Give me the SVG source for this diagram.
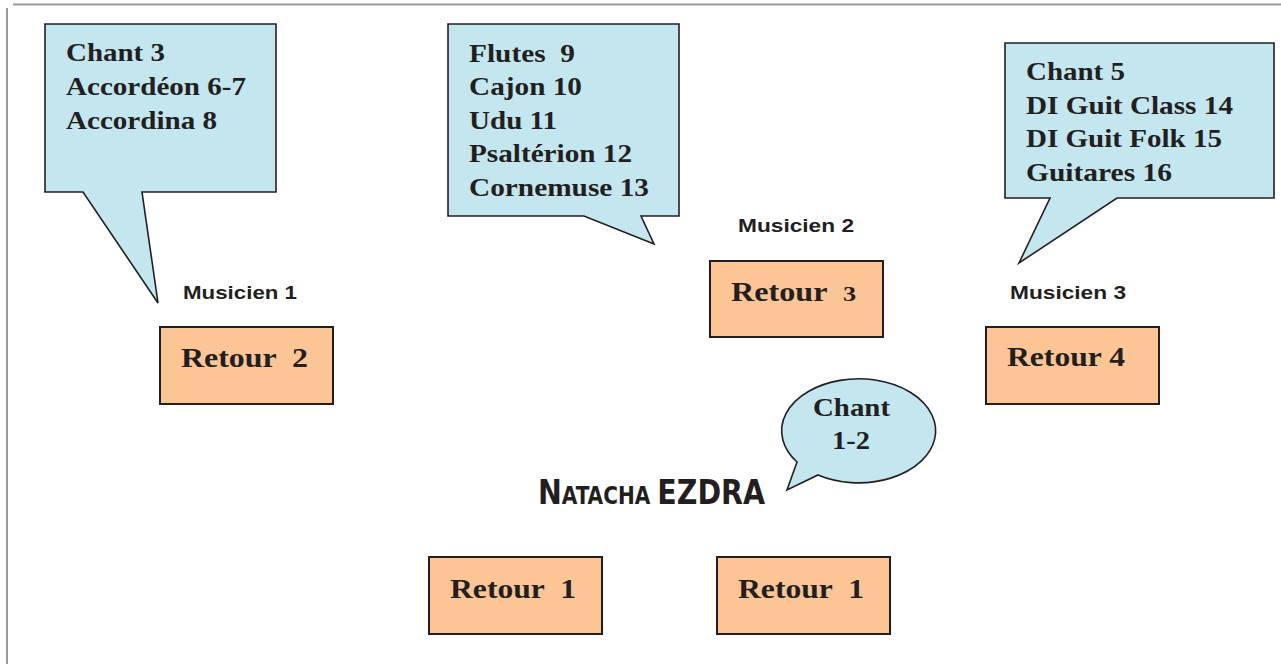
<svg xmlns="http://www.w3.org/2000/svg" width="1281" height="664" viewBox="0 0 1281 664">
<style>
.bubble{fill:#C4E6EF;stroke:#231F20;stroke-width:1.6;stroke-linejoin:miter}
.box{fill:#FBC596;stroke:#231F20;stroke-width:2}
text{white-space:pre}
.t{font-family:"Liberation Serif",serif;font-weight:bold;font-size:26px;fill:#231F20}
.r{font-family:"Liberation Serif",serif;font-weight:bold;font-size:27px;fill:#231F20}
.m{font-family:"Liberation Sans",sans-serif;font-weight:bold;font-size:18px;fill:#231F20}
.frame{stroke:#999;stroke-width:2;fill:none}
</style>
<rect width="1281" height="664" fill="#fff"/>
<g id="frame">
<line class="frame" x1="13" y1="4.5" x2="1281" y2="4.5"/>
<line class="frame" x1="7" y1="8" x2="7" y2="664"/>
</g>
<g id="callout1">
<path class="bubble" d="M45,24 H276 V192 H142 L158,303 L83,192 H45 Z"/>
<text class="t" x="66" y="61" textLength="99" lengthAdjust="spacingAndGlyphs">Chant 3</text>
<text class="t" x="66" y="95" textLength="180" lengthAdjust="spacingAndGlyphs">Accordéon 6-7</text>
<text class="t" x="66" y="129" textLength="151" lengthAdjust="spacingAndGlyphs">Accordina 8</text>
</g>
<g id="callout2">
<path class="bubble" d="M448,24 H679 V216 H641 L654,244 L584,216 H448 Z"/>
<text class="t" x="469" y="62" textLength="106" lengthAdjust="spacingAndGlyphs">Flutes  9</text>
<text class="t" x="469" y="95" textLength="113" lengthAdjust="spacingAndGlyphs">Cajon 10</text>
<text class="t" x="469" y="129" textLength="88" lengthAdjust="spacingAndGlyphs">Udu 11</text>
<text class="t" x="469" y="162" textLength="163" lengthAdjust="spacingAndGlyphs">Psaltérion 12</text>
<text class="t" x="469" y="196" textLength="180" lengthAdjust="spacingAndGlyphs">Cornemuse 13</text>
</g>
<g id="callout3">
<path class="bubble" d="M1005,43 H1274 V198 H1117 L1019,263 L1050,198 H1005 Z"/>
<text class="t" x="1026" y="80" textLength="99" lengthAdjust="spacingAndGlyphs">Chant 5</text>
<text class="t" x="1026" y="114" textLength="207" lengthAdjust="spacingAndGlyphs">DI Guit Class 14</text>
<text class="t" x="1026" y="147" textLength="196" lengthAdjust="spacingAndGlyphs">DI Guit Folk 15</text>
<text class="t" x="1026" y="181" textLength="146" lengthAdjust="spacingAndGlyphs">Guitares 16</text>
</g>
<g id="musicien1"><text class="m" x="183" y="299" textLength="114" lengthAdjust="spacingAndGlyphs">Musicien 1</text></g>
<g id="musicien2"><text class="m" x="738" y="232" textLength="116" lengthAdjust="spacingAndGlyphs">Musicien 2</text></g>
<g id="musicien3"><text class="m" x="1010" y="299" textLength="116" lengthAdjust="spacingAndGlyphs">Musicien 3</text></g>
<g id="retour2">
<rect class="box" x="160" y="327" width="173" height="77"/>
<text class="r" x="181" y="367" textLength="127" lengthAdjust="spacingAndGlyphs">Retour  2</text>
</g>
<g id="retour3">
<rect class="box" x="710" y="261" width="173" height="76"/>
<text class="r" x="731" y="301" textLength="125" lengthAdjust="spacingAndGlyphs">Retour  <tspan font-size="22">3</tspan></text>
</g>
<g id="retour4">
<rect class="box" x="986" y="327" width="173" height="77"/>
<text class="r" x="1007" y="366" textLength="118" lengthAdjust="spacingAndGlyphs">Retour 4</text>
</g>
<g id="retour1a">
<rect class="box" x="429" y="557" width="173" height="77"/>
<text class="r" x="450" y="598" textLength="126" lengthAdjust="spacingAndGlyphs">Retour  1</text>
</g>
<g id="retour1b">
<rect class="box" x="717" y="557" width="173" height="77"/>
<text class="r" x="738" y="598" textLength="126" lengthAdjust="spacingAndGlyphs">Retour  1</text>
</g>
<g id="chant12">
<path class="bubble" d="M797,462 A77,52 0 1 1 818,475 L787,490 Z"/>
<text class="t" x="813" y="416" textLength="77" lengthAdjust="spacingAndGlyphs">Chant</text>
<text class="t" x="832" y="449" textLength="38" lengthAdjust="spacingAndGlyphs">1-2</text>
</g>
<g id="natacha">
<text x="538" y="504" font-family="'DejaVu Sans Condensed','DejaVu Sans',sans-serif" font-weight="bold" fill="#231F20" textLength="227" lengthAdjust="spacingAndGlyphs"><tspan font-size="34">N</tspan><tspan font-size="24">ATACHA </tspan><tspan font-size="34">EZDRA</tspan></text>
</g>
</svg>
